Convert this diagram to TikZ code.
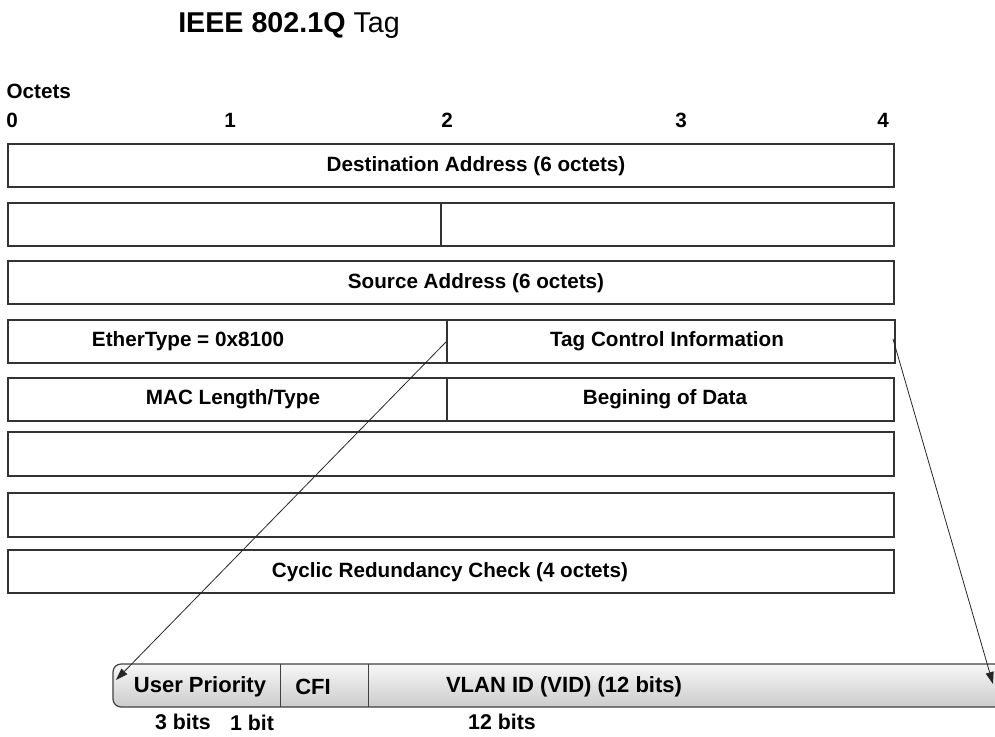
\documentclass[tikz,border=0pt]{standalone}
\usepackage{fontspec}
\setmainfont{Liberation Sans}
\usetikzlibrary{arrows.meta,fit}

\tikzset{
  field/.style={draw=black!80, line width=0.9pt, inner sep=0pt},
  slot/.style={inner sep=0pt},
  lbl/.style={font=\fontsize{15.5}{17}\selectfont\bfseries, inner sep=1pt},
  barlbl/.style={font=\fontsize{16.5}{18}\selectfont\bfseries, inner sep=1pt},
  bitlbl/.style={font=\fontsize{16}{18}\selectfont\bfseries, inner sep=0pt},
  tagarrow/.style={draw=black!85, line width=0.6pt, -{Triangle[length=9pt,width=6pt]}},
}

\begin{document}
\begin{tikzpicture}[x=0.75pt,y=0.75pt,yscale=-1,xscale=1]
\useasboundingbox (0,0) rectangle (995,736);

% Title
\node[font=\fontsize{21.5}{24}\selectfont, anchor=west, inner sep=0pt] (title) at (178,25) {\textbf{IEEE 802.1Q} Tag};

% Octet scale
\node[lbl, anchor=west] (octets) at (5,91) {Octets};
\node[lbl] (oct0) at (12,120) {0};
\node[lbl] (oct1) at (230,120) {1};
\node[lbl] (oct2) at (447,120) {2};
\node[lbl] (oct3) at (681,120) {3};
\node[lbl] (oct4) at (883,120) {4};

%Shape: Rectangle  (frame rows)
\node[field, fit={(8,144) (894,187)}] (dst) {};
\node[field, fit={(8,203) (441,246)}] (dst2) {};
\node[field, fit={(441,203) (894,246)}] (src1) {};
\node[field, fit={(8,261) (894,304)}] (src) {};
\node[field, fit={(8,320) (447,363)}] (ethtype) {};
\node[field, fit={(447,320) (895,363)}] (tci) {};
\node[field, fit={(8,378) (447,421)}] (maclen) {};
\node[field, fit={(447,378) (894,421)}] (data) {};
\node[field, fit={(8,432) (894,476)}] (pay1) {};
\node[field, fit={(8,493) (894,537)}] (pay2) {};
\node[field, fit={(8,550) (894,593)}] (crc) {};

% Text Node
\node[lbl] (dst-l) at (476,166) {Destination Address (6 octets)};
\node[lbl] (src-l) at (476,283) {Source Address (6 octets)};
\node[lbl] (ethtype-l) at (188,341) {EtherType = 0x8100};
\node[lbl] (tci-l) at (667,341) {Tag Control Information};
\node[lbl] (maclen-l) at (233,399) {MAC Length/Type};
\node[lbl] (data-l) at (665,399) {Begining of Data};
\node[lbl] (crc-l) at (450,572) {Cyclic Redundancy Check (4 octets)};

%Shape: Rounded bar (TCI fields)
\draw[draw=black!75, line width=0.9pt, top color=black!3, bottom color=black!20, rounded corners=6pt] (113,664) rectangle (1020,707);
\node[slot, fit={(113,664) (280,707)}] (prio) {};
\node[slot, fit={(280,664) (368,707)}] (cfi) {};
\node[slot, fit={(368,664) (1020,707)}] (vid) {};
\draw[draw=black!75, line width=0.9pt] (prio.north east) -- (prio.south east);
\draw[draw=black!75, line width=0.9pt] (cfi.north east) -- (cfi.south east);

% Text Node
\node[barlbl] (prio-l) at (200,687) {User Priority};
\node[barlbl] (cfi-l) at (313,687) {CFI};
\node[barlbl] (vid-l) at (564,687) {VLAN ID (VID) (12 bits)};
\node[bitlbl] (prio-b) at (183,722) {3 bits};
\node[bitlbl] (cfi-b) at (252,723) {1 bit};
\node[bitlbl] (vid-b) at (502,722) {12 bits};

%Straight Lines (expansion arrows)
\coordinate (priotip) at (116,680);
\coordinate (vidtip) at (993,684);
\draw[tagarrow] (tci.west) -- (priotip);
\draw[tagarrow] ([xshift=-2pt,yshift=-2pt]tci.east) -- (vidtip);

\end{tikzpicture}
\end{document}
